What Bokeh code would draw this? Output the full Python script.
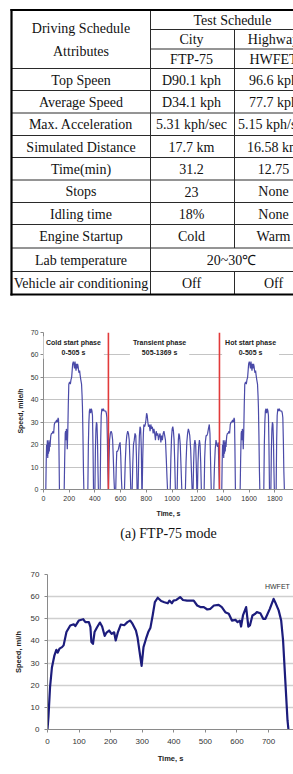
from bokeh.plotting import figure
from bokeh.models import Range1d, Label, FixedTicker, Title
from bokeh.layouts import column
from bokeh.embed import file_html
from bokeh.resources import INLINE
from bokeh.core.properties import value

# ---------------- data ----------------
HEAD_ATTR = ["Driving Schedule", "Attributes"]
HEAD_TEST = "Test Schedule"
HEAD_TYPE = ["City", "Highway"]
HEAD_MODE = ["FTP-75", "HWFET"]
ROW_LABELS = ["Top Speen", "Average Speed", "Max. Acceleration", "Simulated Distance",
              "Time(min)", "Stops", "Idling time", "Engine Startup", "Lab temperature",
              "Vehicle air conditioning"]
CITY_VALUES = ["D90.1 kph", "D34.1 kph", "5.31 kph/sec", "17.7 km", "31.2", "23", "18%",
               "Cold", "20~30\u2103", "Off"]
HIGHWAY_VALUES = ["96.6 kph", "77.7 kph", "5.15 kph/sec", "16.58 km", "12.75", "None", "None",
                  "Warm", "20~30\u2103", "Off"]
MERGED_ROWS = ["Lab temperature"]

# FTP-75 speed trace (s, mile/h)
COLD_T = [0, 18, 21, 24, 27, 30, 33, 36, 39, 42, 45, 48, 51, 54, 57, 62, 68, 74, 79, 84,
          90, 96, 102, 107, 111, 114, 117, 120, 124, 161, 165, 169, 172, 175, 178, 181, 185, 189, 193, 197,
          203, 209, 214, 219, 223, 227, 232, 236, 241, 245, 249, 253, 257, 261, 265, 269, 273, 277, 281, 285,
          290, 296, 300, 303, 307, 311, 314, 345, 349, 353, 357, 362, 367, 372, 377, 381, 385, 389, 400, 404,
          408, 412, 416, 420, 424, 427, 441, 445, 449, 454, 460, 466, 472, 478, 484, 489, 493, 497, 501, 505]
COLD_V = [0, 0, 12, 20, 15, 22, 14, 21, 16, 22, 17, 21, 19, 22, 24, 25, 25, 26, 25, 29,
          30, 30, 31, 30, 31, 32, 31, 20, 0, 0, 14, 25, 26, 22, 27, 26, 18, 26, 38, 47,
          48, 47, 49, 50, 53, 56, 57, 56, 54, 57, 55, 53, 56, 54, 56, 55, 53, 52, 53, 51,
          49, 47, 42, 37, 24, 8, 0, 0, 20, 30, 35, 36, 34, 36, 35, 33, 20, 0, 0, 18,
          27, 30, 29, 22, 8, 0, 0, 22, 33, 36, 35, 36, 35, 35, 35, 34, 32, 22, 8, 0]
TRANS_T = [505, 509, 514, 520, 526, 532, 538, 543, 548, 552,
           562, 566, 570, 576, 583, 590, 596, 601, 606, 610,
           630, 636, 642, 648, 655, 661, 667, 673, 679,
           690, 695, 700, 706, 712, 718, 723, 728,
           736, 741, 746, 751, 756, 761, 765,
           768, 772, 777, 781, 787, 792, 797, 802, 807, 812, 817, 823, 829, 835, 841, 847, 853, 859,
           865, 871, 877, 883, 889, 895, 901, 907, 913, 919, 925, 931, 937, 943, 949, 955, 961, 965,
           986, 991, 996, 1001, 1006, 1011, 1016, 1021, 1026,
           1040, 1044, 1049, 1053, 1058, 1064, 1070, 1076,
           1104, 1109, 1115, 1121, 1127, 1132, 1138, 1145, 1151, 1156,
           1164, 1168, 1173, 1178, 1184, 1189, 1193,
           1198, 1202, 1207, 1213, 1218, 1223, 1228,
           1250, 1254, 1259, 1265, 1271, 1277, 1283, 1290, 1295, 1300, 1305,
           1325, 1330, 1336, 1342, 1348, 1354, 1360, 1364, 1369]
TRANS_V = [0, 12, 22, 25, 26, 25, 22, 14, 5, 0,
           0, 10, 17, 17, 18, 20, 21, 15, 5, 0,
           0, 12, 20, 24, 26, 25, 22, 12, 0,
           0, 12, 20, 22, 25, 24, 15, 0,
           0, 15, 24, 28, 27, 18, 0,
           0, 14, 25, 29, 28, 29, 31, 34, 33, 30, 28, 29, 26, 29, 27, 28, 25, 27,
           25, 22, 26, 24, 25, 22, 24, 25, 21, 24, 22, 25, 26, 24, 22, 14, 5, 0,
           0, 14, 23, 27, 28, 26, 22, 12, 0,
           0, 12, 22, 25, 24, 20, 10, 0,
           0, 12, 21, 25, 27, 26, 24, 18, 8, 0,
           0, 12, 20, 22, 20, 10, 0,
           0, 12, 19, 22, 20, 12, 0,
           0, 14, 21, 24, 24, 25, 27, 29, 25, 12, 0,
           0, 10, 18, 22, 20, 19, 21, 10, 0]
HOT_START = 1369
HOT_T_REL = [0, 18, 21, 24, 27, 30, 33, 36, 39, 42, 45, 48, 51, 54, 57, 62, 68, 74, 79, 84,
             90, 96, 102, 107, 111, 114, 117, 120, 124, 161, 165, 169, 172, 175, 178, 181, 185, 189, 193, 197,
             203, 209, 214, 219, 223, 227, 232, 236, 241, 245, 249, 253, 257, 261, 265, 269, 273, 277, 281, 285,
             290, 296, 300, 303, 307, 311, 314, 345, 349, 353, 357, 362, 367, 372, 377, 381, 385, 389, 400, 404,
             408, 412, 416, 420, 424, 427, 441, 445, 449, 454, 460, 466, 472, 478, 484, 489, 493, 497, 501, 505]
HOT_V = [0, 0, 12, 20, 15, 22, 14, 21, 16, 22, 17, 21, 19, 22, 24, 25, 25, 26, 25, 29,
         30, 30, 31, 30, 31, 32, 31, 20, 0, 0, 14, 25, 26, 22, 27, 26, 18, 26, 38, 47,
         48, 47, 49, 50, 53, 56, 57, 56, 54, 57, 55, 53, 56, 54, 56, 55, 53, 52, 53, 51,
         49, 47, 42, 37, 24, 8, 0, 0, 20, 30, 35, 36, 34, 36, 35, 33, 20, 0, 0, 18,
         27, 30, 29, 22, 8, 0, 0, 22, 33, 36, 35, 36, 35, 35, 35, 34, 32, 22, 8, 0]
PHASE_BOUNDS = [505, 1369]
PHASE_NAMES = ["Cold start phase\n0-505 s", "Transient phase\n505-1369 s", "Hot start phase\n0-505 s"]
PHASE_LABEL_T = [233, 903, 1611]
FTP_XTICKS = [0, 200, 400, 600, 800, 1000, 1200, 1400, 1600, 1800, 2000]
SPEED_TICKS = [0, 10, 20, 30, 40, 50, 60, 70]
FTP_CAPTION = "(a) FTP-75 mode"

# HWFET speed trace (s, mile/h)
HW_T = [0, 3, 8, 14, 22, 28, 32, 38, 46, 51, 60, 72, 83, 88, 99, 113, 120, 131, 136, 139,
        144, 149, 157, 166, 173, 181, 187, 195, 203, 211, 216, 223, 232, 243, 253, 262, 269, 280, 285, 294,
        298, 304, 312, 319, 326, 333, 340, 349, 360, 370, 381, 386, 394, 399, 408, 420, 429, 442, 463, 474,
        484, 495, 506, 516, 527, 542, 552, 563, 574, 584, 595, 602, 609, 613, 619, 629, 636, 641, 649, 658,
        663, 674, 683, 690, 704, 716, 721, 732, 740, 746, 753, 760, 763]
HW_V = [0, 5.7, 19, 28, 33.5, 36, 34.7, 36.5, 37.2, 38, 44, 47, 47.5, 46.7, 49.2, 49.8, 48.5, 48.5, 46.2, 39.5,
        38.7, 44, 46.2, 48.3, 46.5, 42.3, 43.8, 44.7, 43.2, 43.9, 40.2, 44, 47.4, 47.1, 48.5, 49.2, 47.8, 44.7, 41.7, 32.7,
        28.7, 37.2, 41, 44, 46, 51.5, 57.5, 59.5, 58, 57.5, 57, 58.2, 57, 58.2, 58.5, 59.8, 58.5, 58.2, 58.2, 56,
        55.3, 55.3, 54.2, 54.5, 56, 56.3, 55.3, 53, 52.3, 49.2, 49.5, 48.5, 49.2, 46.5, 51.5, 55.3, 46.5, 47, 51.5, 52.3,
        53, 52.5, 50, 50, 54.5, 59, 57.5, 53.8, 49.2, 40.2, 22.2, 4.2, 0]
HW_XTICKS = [0, 100, 200, 300, 400, 500, 600, 700, 800]

# ---------------- layout / style ----------------
W = 293
SERIF = "'Liberation Serif', 'Times New Roman', serif"
NARROW = "'Liberation Sans Narrow', 'Arial Narrow', 'Liberation Sans', sans-serif"
SANS = "'Liberation Sans', Arial, sans-serif"

# ---- table ----
TAB_H = 305
tab = figure(width=W, height=TAB_H, x_range=Range1d(0, W), y_range=Range1d(TAB_H, 0),
             x_axis_type=None, y_axis_type=None, toolbar_location=None, output_backend="svg",
             min_border=0, outline_line_color=None)
L, C1, C2, R = 11, 150, 234, 314
TOP, H1, H2, H3 = 9.5, 29, 48.5, 68
row_bottoms = [90, 112.5, 135, 157, 179.5, 202, 224, 247.5, 271, 294]
BOT = row_bottoms[-1]
row_tops = [H3] + row_bottoms[:-1]

x0, y0, x1, y1 = [], [], [], []
def seg(a, b, c, d):
    x0.append(a); y0.append(b); x1.append(c); y1.append(d)
seg(C1, H1, R, H1)
seg(C1, H2, R, H2)
seg(L, H3, R, H3)
for yb in row_bottoms[:-1]:
    seg(L, yb, R, yb)
seg(C1, TOP, C1, BOT)
seg(C2, H1, C2, H3)
for lab, yt, yb in zip(ROW_LABELS, row_tops, row_bottoms):
    if lab not in MERGED_ROWS:
        seg(C2, yt, C2, yb)
tab.segment(x0=x0, y0=y0, x1=x1, y1=y1, line_color="#2a2a2a", line_width=1)
tab.segment(x0=[L, L, L], y0=[TOP, TOP, BOT], x1=[R, L, R], y1=[TOP, BOT, BOT],
            line_color="#000000", line_width=2.2, line_cap="square")

tx, ty, tt = [], [], []
def txt(x, y, s):
    tx.append(x); ty.append(y); tt.append(s)
cx1, cx2, cx3 = (L + C1) / 2, 191, 273
txt(cx1, 28, HEAD_ATTR[0]); txt(cx1, 50.5, HEAD_ATTR[1])
txt((C1 + R) / 2, 19.5, HEAD_TEST)
txt(cx2, 39, HEAD_TYPE[0]); txt(cx3, 39, HEAD_TYPE[1])
txt(cx2, 58.5, HEAD_MODE[0]); txt(cx3, 58.5, HEAD_MODE[1])
for lab, cv, hv, yt, yb in zip(ROW_LABELS, CITY_VALUES, HIGHWAY_VALUES, row_tops, row_bottoms):
    yc = (yt + yb) / 2 + 0.5
    txt(cx1, yc, lab)
    if lab in MERGED_ROWS:
        txt((C1 + R) / 2 - 1, yc, cv)
    else:
        txt(cx2, yc, cv)
        txt(cx3, yc, hv)
tab.text(x=tx, y=ty, text=tt, text_align="center", text_baseline="middle",
         text_font=value(SERIF), text_font_size="14px", text_color="#111111")


def style_axes(p, tick_font_size, label_font_size, xstand, ystand):
    for ax in (p.xaxis[0], p.yaxis[0]):
        ax.axis_line_color = "#8a8a8a"
        ax.major_tick_line_color = "#8a8a8a"
        ax.minor_tick_line_color = None
        ax.major_tick_in = 0
        ax.major_tick_out = 3
        ax.major_label_text_font = NARROW
        ax.major_label_text_font_size = tick_font_size
        ax.major_label_text_color = "#333333"
        ax.axis_label_text_font = SANS
        ax.axis_label_text_font_style = "bold"
        ax.axis_label_text_font_size = label_font_size
        ax.axis_label_text_color = "#222222"
    p.xaxis[0].major_label_standoff = xstand
    p.yaxis[0].major_label_standoff = ystand
    p.xgrid.visible = False


# ---- FTP-75 chart ----
FTP_H = 243
ftp = figure(width=W, height=FTP_H, x_range=Range1d(0, 1945), y_range=Range1d(0, 70),
             toolbar_location=None, output_backend="svg",
             min_border_left=43, min_border_right=0, min_border_top=27, min_border_bottom=59,
             outline_line_color=None, x_axis_label="Time, s", y_axis_label="Speed, mile/h")
ftp.xaxis.ticker = FixedTicker(ticks=FTP_XTICKS)
ftp.yaxis.ticker = FixedTicker(ticks=SPEED_TICKS)
style_axes(ftp, "7px", "7px", 3, 2)
ftp.xaxis.axis_label_standoff = 6
ftp.yaxis.axis_label_standoff = 4
ftp.ygrid.grid_line_color = "#c4c4c4"
ftp.ygrid.grid_line_width = 1

all_t = COLD_T + TRANS_T + [HOT_START + t for t in HOT_T_REL]
all_v = COLD_V + TRANS_V + HOT_V
ftp.line(x=all_t, y=all_v, line_color="#4a4aa8", line_width=1.2)
ftp.segment(x0=PHASE_BOUNDS, y0=[0, 0], x1=PHASE_BOUNDS, y1=[70, 70],
            line_color="#e23a3a", line_width=1.6)
for name, t in zip(PHASE_NAMES, PHASE_LABEL_T):
    ftp.add_layout(Label(x=t, y=63.3, text=name, text_align="center", text_baseline="middle",
                         text_font=NARROW, text_font_size="7px", text_font_style="bold",
                         text_color="#222222", text_line_height=1.35,
                         background_fill_color="white", padding=3))
ftp.add_layout(Title(text=FTP_CAPTION, align="center", offset=-6, standoff=8,
                     text_font=SERIF, text_font_size="14px", text_font_style="normal",
                     text_color="#111111"), "below")

# ---- HWFET chart ----
HW_H = 226
hw = figure(width=W, height=HW_H, x_range=Range1d(0, 779), y_range=Range1d(0, 70),
            toolbar_location=None, output_backend="svg",
            min_border_left=47, min_border_right=0, min_border_top=26, min_border_bottom=45,
            outline_line_color=None, x_axis_label="Time, s", y_axis_label="Speed, mi/h")
hw.xaxis.ticker = FixedTicker(ticks=HW_XTICKS)
hw.yaxis.ticker = FixedTicker(ticks=SPEED_TICKS)
style_axes(hw, "8px", "7.5px", 6, 5)
hw.xaxis.axis_label_standoff = 7
hw.yaxis.axis_label_standoff = 5
hw.ygrid.grid_line_color = "#cfcfcf"
hw.ygrid.grid_line_width = 1.5
hw.line(x=HW_T, y=HW_V, line_color="#1c1c7c", line_width=2.2, line_join="round")
hw.add_layout(Label(x=728, y=64.7, text="HWFET", text_align="center", text_baseline="middle",
                    text_font=NARROW, text_font_size="7px", text_color="#333333"))

# each figure in its own column so their frames are not aligned with each other
layout = column(column(tab, spacing=0), column(ftp, spacing=0), column(hw, spacing=0), spacing=0)
open("out.html", "w").write(file_html(layout, INLINE))
